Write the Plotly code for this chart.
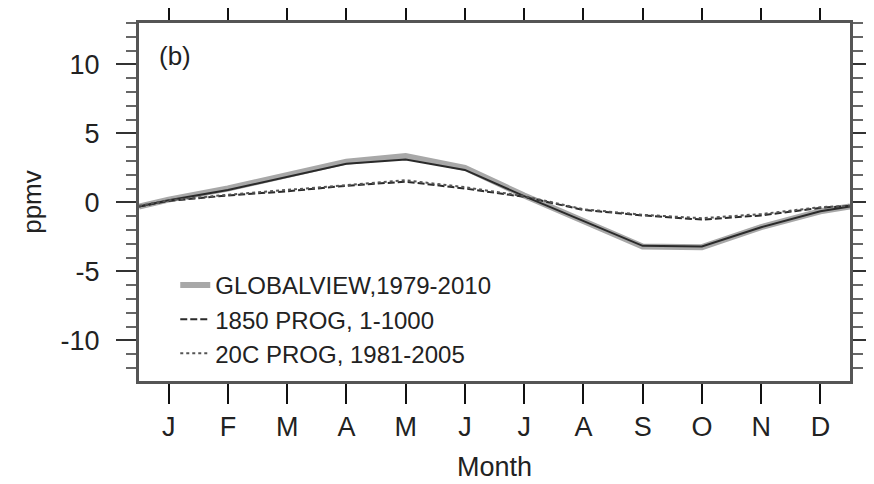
import plotly.graph_objects as go

# Month positions (edge points at the panel borders wrap Dec/Jan)
month_x = [0.5, 1, 2, 3, 4, 5, 6, 7, 8, 9, 10, 11, 12, 12.5]
month_ticks = [1, 2, 3, 4, 5, 6, 7, 8, 9, 10, 11, 12]
month_labels = ["J", "F", "M", "A", "M", "J", "J", "A", "S", "O", "N", "D"]

globalview = [-0.3, 0.2, 1.0, 2.0, 2.95, 3.35, 2.5, 0.5, -1.4, -3.2, -3.25, -1.8, -0.65, -0.3]
model_dark = [-0.3, 0.15, 0.9, 1.85, 2.8, 3.1, 2.35, 0.45, -1.35, -3.15, -3.2, -1.8, -0.65, -0.3]
prog_1850 = [-0.3, 0.1, 0.5, 0.8, 1.2, 1.5, 1.0, 0.4, -0.55, -0.95, -1.25, -0.95, -0.4, -0.25]
prog_20c = [-0.25, 0.15, 0.55, 0.9, 1.3, 1.6, 1.1, 0.45, -0.5, -0.9, -1.15, -0.85, -0.35, -0.25]

y_ticks = [-10, -5, 0, 5, 10]
y_labels = ["-10", "-5", "0", "5", "10"]

FONT = "Liberation Sans"

fig = go.Figure()
fig.add_trace(go.Scatter(x=month_x, y=globalview, mode="lines",
                         name="GLOBALVIEW,1979-2010",
                         line=dict(color="#a8a8a8", width=6)))
fig.add_trace(go.Scatter(x=month_x, y=model_dark, mode="lines",
                         showlegend=False,
                         line=dict(color="#2a2a2a", width=2)))
fig.add_trace(go.Scatter(x=month_x, y=prog_1850, mode="lines",
                         name="1850 PROG, 1-1000",
                         line=dict(color="#2a2a2a", width=2, dash="7px,3px")))
fig.add_trace(go.Scatter(x=month_x, y=prog_20c, mode="lines",
                         name="20C PROG, 1981-2005",
                         line=dict(color="#555555", width=2, dash="3px,3px")))

fig.add_annotation(x=0.026, y=0.955, xref="paper", yref="paper",
                   text="(b)", showarrow=False, xanchor="left", yanchor="top",
                   font=dict(family=FONT, size=26, color="#222"))

# The page body adds an 8px offset, so the figure is 8px smaller than the window
fig.update_layout(
    width=866, height=476,
    margin=dict(l=131, r=24, t=15, b=103),
    paper_bgcolor="white", plot_bgcolor="white",
    showlegend=True,
    legend=dict(x=0.051, y=0.33, xanchor="left", yanchor="top",
                bgcolor="rgba(0,0,0,0)", font=dict(family=FONT, size=24, color="#222"),
                tracegroupgap=0, itemwidth=30),
    xaxis=dict(range=[0.5, 12.5], tickmode="array", tickvals=month_ticks,
               ticktext=month_labels, ticks="outside", ticklen=20, tickwidth=2,
               tickcolor="#111", showline=True, linecolor="#555", linewidth=3,
               mirror="ticks", showgrid=False, zeroline=False, automargin=False,
               tickfont=dict(family=FONT, size=27, color="#222"),
               title=dict(text="Month", font=dict(family=FONT, size=27, color="#222"),
                          standoff=16)),
    yaxis=dict(range=[-12.95, 13.0], tickmode="array", tickvals=y_ticks,
               ticktext=y_labels, ticks="outside", ticklen=20, tickwidth=2,
               tickcolor="#333", showline=True,
               linecolor="#555", linewidth=3,
               mirror="ticks", showgrid=False, zeroline=False, automargin=False,
               ticklabelstandoff=11,
               minor=dict(dtick=1, ticks="outside", ticklen=10, tickwidth=2,
                          tickcolor="#666", showgrid=False),
               tickfont=dict(family=FONT, size=27, color="#222"),
               title=dict(text="ppmv", font=dict(family=FONT, size=26, color="#222"),
                          standoff=12)),
)

fig.write_html("out.html")
